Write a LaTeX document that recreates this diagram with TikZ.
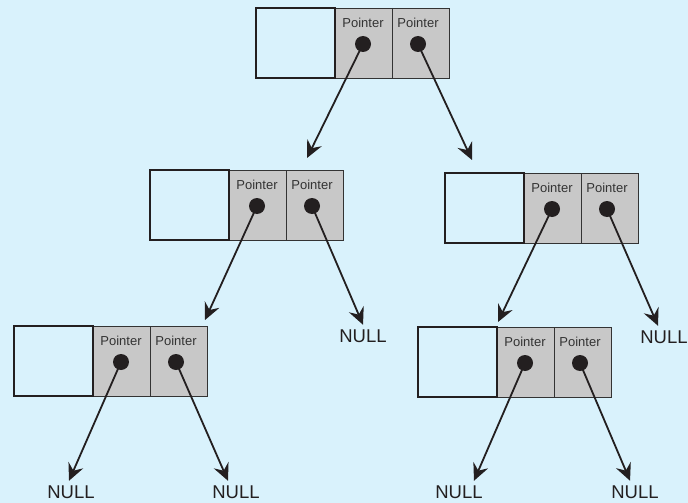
\documentclass[tikz,border=0pt]{standalone}
\usepackage{fontspec}
\setmainfont{Liberation Sans}
\usetikzlibrary{arrows.meta}
\definecolor{PanelBlue}{HTML}{D9F2FC}
\definecolor{CellGray}{HTML}{C8C8C8}
\definecolor{InkDark}{HTML}{231F20}
\definecolor{LabelGray}{HTML}{333333}

\begin{document}
\begin{tikzpicture}[x=1pt,y=-1pt,
  ptr/.style={draw=InkDark, line width=1.8pt, -{Stealth[length=17pt,width=16pt,inset=6pt]}},
  tonull/.style={shorten >=5pt},
  dot/.style={circle, fill=InkDark, inner sep=0pt, minimum size=16pt},
  ptrlabel/.style={font=\fontsize{13}{15}\selectfont, text=LabelGray},
  nulltext/.style={font=\fontsize{18.5}{20}\selectfont, text=InkDark, inner sep=0pt}]
  \fill[PanelBlue] (0,0) rectangle (688,503);
  \useasboundingbox (0,0) rectangle (688,503);
  % the five records: data box and two pointer cells
  \foreach \n/\x/\y in {a/256/8, b/150/170, c/445/173, d/14/326, e/418/327} {
    \draw[fill=CellGray, draw=LabelGray, line width=0.8pt] (\x+79,\y) rectangle (\x+193,\y+70);
    \draw[LabelGray, line width=0.8pt] (\x+136,\y) -- (\x+136,\y+70);
    \draw[InkDark, line width=1.8pt] (\x,\y) rectangle (\x+79,\y+70);
    \node[ptrlabel] at (\x+107,\y+15) {Pointer};
    \node[ptrlabel] at (\x+162,\y+15) {Pointer};
    \node[dot] (\n1) at (\x+107,\y+36) {};
    \node[dot] (\n2) at (\x+162,\y+36) {};
  }
  % free ends of the links to child records
  \coordinate (tipab) at (307,158);
  \coordinate (tipac) at (472,160);
  \coordinate (tipbd) at (205,320);
  \coordinate (tipce) at (498,322);
  \node[nulltext] (nb) at (363,336) {NULL};
  \node[nulltext] (nc) at (664,337) {NULL};
  \node[nulltext] (nd1) at (71,492) {NULL};
  \node[nulltext] (nd2) at (236,492) {NULL};
  \node[nulltext] (ne1) at (459,492) {NULL};
  \node[nulltext] (ne2) at (635,492) {NULL};
  \draw[ptr] (a1.center) -- (tipab);
  \draw[ptr] (a2.center) -- (tipac);
  \draw[ptr] (b1.center) -- (tipbd);
  \draw[ptr] (c1.center) -- (tipce);
  \draw[ptr, tonull] (b2.center) -- ([xshift=2pt]nb.north);
  \draw[ptr, tonull] (c2.center) -- ([xshift=-4pt]nc.north);
  \draw[ptr, tonull] (d1.center) -- ([xshift=-4pt]nd1.north);
  \draw[ptr, tonull] (d2.center) -- ([xshift=-6pt]nd2.north);
  \draw[ptr, tonull] (e1.center) -- ([xshift=13pt]ne1.north);
  \draw[ptr, tonull] (e2.center) -- ([xshift=-3pt]ne2.north);
\end{tikzpicture}
\end{document}
